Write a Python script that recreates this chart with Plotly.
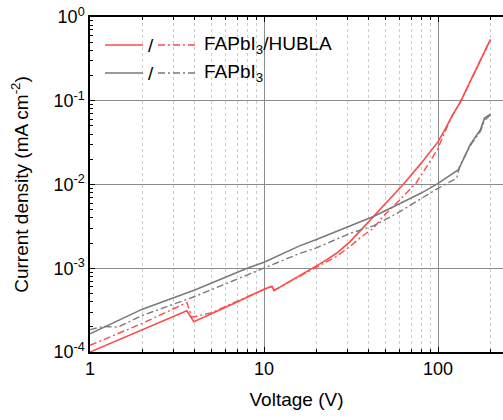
import plotly.graph_objects as go

# ---- data ----
v_red_solid = [1, 2, 3.6, 3.95, 5, 7, 10, 11.1, 11.4, 14, 19, 22, 26, 31, 36, 42.5, 53, 63, 80, 90, 100, 110, 120, 135, 150, 170, 185, 200]
j_red_solid = [1.0e-4, 1.86e-4, 3.1e-4, 2.3e-4, 2.85e-4, 3.95e-4, 5.6e-4, 6.1e-4, 5.4e-4, 6.9e-4, 1.0e-3, 1.2e-3, 1.5e-3, 2.05e-3, 2.85e-3, 4.15e-3, 6.9e-3, 1.0e-2, 1.8e-2, 2.45e-2, 3.25e-2, 4.6e-2, 6.5e-2, 0.099, 0.155, 0.27, 0.387, 0.54]

v_red_dash = [1, 2, 3.6, 3.85, 5, 7, 10, 11.1, 11.5, 14, 19, 22, 26, 31, 36, 42.5, 47.5, 60, 75, 90, 100, 108, 115, 120, 135, 150, 170, 185, 200]
j_red_dash = [1.2e-4, 2.2e-4, 3.9e-4, 2.6e-4, 2.95e-4, 4.0e-4, 5.6e-4, 6.0e-4, 5.5e-4, 6.9e-4, 9.7e-4, 1.12e-3, 1.38e-3, 1.8e-3, 2.35e-3, 3.0e-3, 4.0e-3, 6.5e-3, 1.05e-2, 1.9e-2, 2.7e-2, 4.0e-2, 5.4e-2, 6.5e-2, 0.099, 0.155, 0.27, 0.387, 0.54]

v_gray_solid = [1, 2, 4, 8, 10, 16, 20, 30, 42.5, 60, 80, 100, 131, 153, 175, 185, 200]
j_gray_solid = [1.65e-4, 3.25e-4, 5.5e-4, 1.0e-3, 1.18e-3, 1.85e-3, 2.2e-3, 3.1e-3, 4.15e-3, 5.9e-3, 7.9e-3, 1.03e-2, 1.5e-2, 3.0e-2, 4.5e-2, 6.2e-2, 6.9e-2]

v_gray_dash = [1, 1.2, 1.45, 2, 4, 8.3, 10, 16, 20, 31, 42.5, 60, 80, 100, 128, 133, 149, 156, 175, 185, 200]
j_gray_dash = [1.85e-4, 2.02e-4, 1.98e-4, 2.73e-4, 4.6e-4, 8.5e-4, 1.0e-3, 1.5e-3, 1.75e-3, 2.6e-3, 3.2e-3, 4.7e-3, 6.8e-3, 9.0e-3, 1.19e-2, 1.66e-2, 2.6e-2, 3.1e-2, 4.3e-2, 5.8e-2, 6.8e-2]

x_ticks = [1, 10, 100]
x_ticktext = ["1", "10", "100"]
y_ticks = [1e-4, 1e-3, 1e-2, 1e-1, 1]
y_ticktext = ["10<sup>-4</sup>", "10<sup>-3</sup>", "10<sup>-2</sup>", "10<sup>-1</sup>", "10<sup>0</sup>"]
legend_labels = ["FAPbI<sub>3</sub>/HUBLA", "FAPbI<sub>3</sub>"]

RED = "#ff4a4a"
GRAY = "#7a7a7a"
FONT = "Liberation Sans, Arial, sans-serif"
DASHDOT = "7px,3px,2px,3px"

x_minor = [m * d for d in (1, 10, 100) for m in range(2, 10) if m * d < 240]
y_minor = [m * d for d in (1e-4, 1e-3, 1e-2, 1e-1) for m in range(2, 10)]

fig = go.Figure()
fig.add_trace(go.Scatter(x=v_red_solid, y=j_red_solid, mode="lines",
                         line=dict(color=RED, width=1.6), showlegend=False))
fig.add_trace(go.Scatter(x=v_red_dash, y=j_red_dash, mode="lines",
                         line=dict(color=RED, width=1.4, dash=DASHDOT), showlegend=False))
fig.add_trace(go.Scatter(x=v_gray_solid, y=j_gray_solid, mode="lines",
                         line=dict(color=GRAY, width=1.6), showlegend=False))
fig.add_trace(go.Scatter(x=v_gray_dash, y=j_gray_dash, mode="lines",
                         line=dict(color=GRAY, width=1.4, dash=DASHDOT), showlegend=False))

# manual legend (two line styles per entry)
rows = [(0.9164, RED, legend_labels[0]), (0.8328, GRAY, legend_labels[1])]
for ypos, col, lab in rows:
    fig.add_shape(type="line", xref="paper", yref="paper", x0=0.0363, x1=0.1283, y0=ypos, y1=ypos,
                  line=dict(color=col, width=1.6))
    fig.add_shape(type="line", xref="paper", yref="paper", x0=0.1646, x1=0.2567, y0=ypos, y1=ypos,
                  line=dict(color=col, width=1.4, dash=DASHDOT))
    fig.add_annotation(xref="paper", yref="paper", x=0.1475, y=ypos, text="/", showarrow=False,
                       xanchor="center", yanchor="middle", font=dict(size=19, color="black", family=FONT))
    fig.add_annotation(xref="paper", yref="paper", x=0.270, y=ypos, text=lab, showarrow=False,
                       xanchor="left", yanchor="middle", font=dict(size=19, color="black", family=FONT))

fig.update_layout(
    width=503, height=420,
    margin=dict(l=90, r=0, t=17, b=68),
    paper_bgcolor="white", plot_bgcolor="white",
    font=dict(family=FONT, size=18, color="black"),
)
fig.update_xaxes(
    type="log", range=[0, 2.373],
    tickmode="array", tickvals=x_ticks, ticktext=x_ticktext,
    ticks="inside", ticklen=5, tickwidth=1, tickcolor="black",
    showline=True, linecolor="black", linewidth=1.5, mirror="allticks",
    showgrid=True, gridcolor="#8a8a8a", gridwidth=1,
    minor=dict(tickmode="array", tickvals=x_minor, ticks="inside", ticklen=3, tickcolor="black",
               showgrid=True, gridcolor="#cccccc", griddash="dot", gridwidth=1),
    tickfont=dict(size=18), title=dict(text="Voltage (V)", font=dict(size=19), standoff=14),
    zeroline=False,
)
fig.update_yaxes(
    type="log", range=[-4, 0],
    tickmode="array", tickvals=y_ticks, ticktext=y_ticktext,
    ticks="inside", ticklen=5, tickwidth=1, tickcolor="black",
    showline=True, linecolor="black", linewidth=1.5, mirror=False,
    showgrid=True, gridcolor="#8a8a8a", gridwidth=1,
    minor=dict(tickmode="array", tickvals=y_minor, ticks="inside", ticklen=3, tickcolor="black",
               showgrid=False),
    tickfont=dict(size=18), title=dict(text="Current density (mA cm<sup>-2</sup>)", font=dict(size=19), standoff=20),
    zeroline=False,
)

fig.write_html("out.html")
